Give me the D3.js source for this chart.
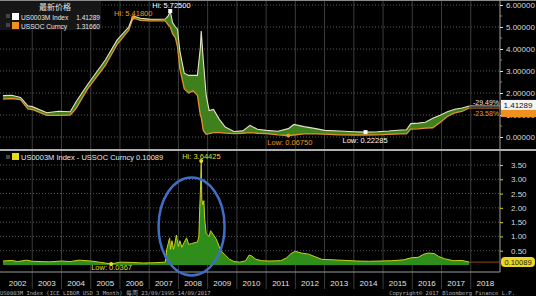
<!DOCTYPE html>
<html><head><meta charset="utf-8">
<script src="https://cdn.jsdelivr.net/npm/d3@7"></script>
<style>html,body{margin:0;padding:0;background:#000;overflow:hidden}svg{display:block}</style>
</head><body>
<svg id="c" width="536" height="296"></svg>
<script>
// ---- data (decimal years) ----
const dates = [2002.0,2002.3,2002.6,2002.85,2003.0,2003.5,2003.9,2004.3,2004.5,2004.9,2005.5,2005.9,2006.3,2006.45,2006.7,2007.0,2007.3,2007.55,2007.65,2007.72,2007.8,2007.9,2007.97,2008.05,2008.2,2008.35,2008.5,2008.65,2008.75,2008.78,2008.85,2008.95,2009.05,2009.2,2009.4,2009.6,2009.9,2010.2,2010.45,2010.7,2011.0,2011.4,2011.76,2011.95,2012.3,2012.7,2013.0,2013.5,2014.0,2014.4,2014.8,2015.2,2015.6,2015.8,2015.95,2016.2,2016.45,2016.7,2016.95,2017.2,2017.45,2017.7,2017.95];
const libor = [1.88,1.90,1.80,1.42,1.38,1.10,1.17,1.15,1.60,2.40,3.50,4.40,5.00,5.50,5.40,5.36,5.35,5.36,5.50,5.725,5.20,5.00,4.90,3.90,2.90,2.80,2.80,2.80,4.05,4.82,3.50,1.90,1.20,1.25,0.80,0.45,0.25,0.28,0.53,0.35,0.30,0.26,0.38,0.57,0.47,0.38,0.30,0.27,0.24,0.22285,0.24,0.27,0.32,0.33,0.61,0.63,0.67,0.85,0.99,1.15,1.26,1.32,1.41289];
const ois = [1.72,1.75,1.70,1.28,1.25,0.98,0.98,1.00,1.30,2.20,3.25,4.20,4.85,5.418,5.30,5.28,5.28,5.28,5.10,5.00,4.70,4.50,4.10,3.10,2.20,2.00,2.10,1.90,1.00,0.90,0.30,0.12,0.15,0.20,0.20,0.18,0.15,0.17,0.20,0.17,0.16,0.10,0.0675,0.09,0.14,0.14,0.13,0.10,0.09,0.09,0.10,0.12,0.14,0.14,0.36,0.37,0.40,0.42,0.66,0.93,1.10,1.16,1.3166];

const spreadDates = [2002.0,2002.3,2002.5,2002.8,2003.0,2003.3,2003.6,2004.0,2004.3,2004.6,2005.0,2005.3,2005.7,2006.0,2006.4,2006.8,2007.2,2007.55,2007.6,2007.65,2007.7,2007.73,2007.78,2007.83,2007.88,2007.93,2007.97,2008.0,2008.05,2008.12,2008.2,2008.28,2008.35,2008.45,2008.55,2008.65,2008.7,2008.73,2008.76,2008.78,2008.8,2008.84,2008.87,2008.9,2008.95,2009.0,2009.05,2009.1,2009.2,2009.3,2009.45,2009.6,2009.75,2009.9,2010.1,2010.3,2010.42,2010.5,2010.65,2010.85,2011.1,2011.5,2011.7,2011.85,2012.0,2012.2,2012.45,2012.7,2012.9,2013.3,2013.7,2014.1,2014.5,2014.9,2015.3,2015.7,2015.95,2016.2,2016.4,2016.55,2016.75,2016.9,2017.1,2017.4,2017.7,2017.95];
const spread = [0.14,0.16,0.12,0.17,0.13,0.12,0.11,0.14,0.12,0.17,0.14,0.10,0.0367,0.10,0.09,0.07,0.08,0.10,0.55,0.75,0.95,0.55,0.85,0.55,0.75,1.05,0.80,0.65,0.85,0.62,0.80,0.95,0.72,0.75,0.78,0.80,1.00,2.00,2.80,3.64425,2.30,2.10,2.25,1.60,1.10,1.05,1.00,1.20,1.05,0.90,0.50,0.35,0.20,0.12,0.10,0.15,0.35,0.32,0.20,0.15,0.14,0.15,0.25,0.40,0.48,0.42,0.38,0.28,0.20,0.18,0.16,0.14,0.13,0.14,0.15,0.18,0.25,0.27,0.38,0.42,0.40,0.30,0.22,0.15,0.16,0.10089];

const years = [2002,2003,2004,2005,2006,2007,2008,2009,2010,2011,2012,2013,2014,2015,2016,2017,2018];
const topTicks = [0,1,2,3,4,5,6];
const bottomTicks = [0.5,1.0,1.5,2.0,2.5,3.0,3.5];
const legendTitle = "最新价格";
const topLegend = [["US0003M Index","1.41289"],["USSOC Curncy","1.31660"]];
const bottomLegend = "US0003M Index - USSOC Curncy 0.10089";

// ---- drawing ----
const svg = d3.select("#c");
const W = 536, H = 296;
const x = d3.scaleLinear().domain([2002, 2019]).range([3, 500]);
const yT = d3.scaleLinear().domain([0, 6]).range([137, 5]);
const yB = d3.scaleLinear().domain([0, 3.5]).range([265, 165]);
const font = "'Liberation Sans', 'DejaVu Sans', sans-serif";
const topData = dates.map((d,i)=>({d, l:libor[i], o:ois[i]}));
const botData = spreadDates.map((d,i)=>({d, s:spread[i]}));

svg.append("rect").attr("width",W).attr("height",H).attr("fill","#000");

// vertical gridlines at year boundaries
svg.append("g").selectAll("line").data(years.slice(1)).join("line")
  .attr("x1",d=>x(d)).attr("x2",d=>x(d)).attr("y1",0).attr("y2",289)
  .attr("stroke","#3c3c3c").attr("stroke-width",1);

// horizontal dotted gridlines
svg.append("g").selectAll("line").data(topTicks).join("line")
  .attr("x1",0).attr("x2",500).attr("y1",d=>yT(d)).attr("y2",d=>yT(d))
  .attr("stroke","#5a5a5a").attr("stroke-dasharray","1,2");
svg.append("g").selectAll("line").data(bottomTicks).join("line")
  .attr("x1",0).attr("x2",500).attr("y1",d=>yB(d)).attr("y2",d=>yB(d))
  .attr("stroke","#5a5a5a").attr("stroke-dasharray","1,2");

// top panel: area between libor and ois
svg.append("path").datum(topData)
  .attr("d", d3.area().x(d=>x(d.d)).y0(d=>yT(d.o)).y1(d=>yT(d.l)))
  .attr("fill","#3f7f1c");
svg.append("path").datum(topData)
  .attr("d", d3.line().x(d=>x(d.d)).y(d=>yT(d.o)))
  .attr("fill","none").attr("stroke","#e0922c").attr("stroke-width",1.3);
svg.append("path").datum(topData)
  .attr("d", d3.line().x(d=>x(d.d)).y(d=>yT(d.l)))
  .attr("fill","none").attr("stroke","#e6e4c4").attr("stroke-width",1.1);

// bottom panel: spread area
svg.append("path").datum(botData)
  .attr("d", d3.area().x(d=>x(d.d)).y0(yB(0)).y1(d=>yB(d.s)))
  .attr("fill","#2f8d1c");
svg.append("path").datum(botData)
  .attr("d", d3.line().x(d=>x(d.d)).y(d=>yB(d.s)))
  .attr("fill","none").attr("stroke","#c9d21a").attr("stroke-width",1);

// frame lines
svg.append("line").attr("x1",0).attr("x2",W).attr("y1",0.5).attr("y2",0.5).attr("stroke","#8a8a8a");
svg.append("line").attr("x1",0).attr("x2",W).attr("y1",150).attr("y2",150).attr("stroke","#b0b0b0").attr("stroke-width",2);
svg.append("line").attr("x1",0).attr("x2",500).attr("y1",272).attr("y2",272).attr("stroke","#9a9a9a");
svg.append("line").attr("x1",500).attr("x2",500).attr("y1",0).attr("y2",272).attr("stroke","#a0a0a0");

// right axis top
const gT = svg.append("g").attr("transform","translate(500,0)");
gT.call(d3.axisRight(yT).tickValues(topTicks).tickFormat(d3.format(".5f")).tickSize(3).tickPadding(3));
gT.select(".domain").remove();
gT.selectAll("line").attr("stroke","#ddd");
gT.selectAll("text").attr("fill","#d8d8d8").attr("font-size",8).attr("font-family",font);
svg.append("g").selectAll("line").data([0.5,1.5,2.5,3.5,4.5,5.5]).join("line")
  .attr("x1",500).attr("x2",502).attr("y1",d=>yT(d)).attr("y2",d=>yT(d)).attr("stroke","#888");

// right axis bottom
const gB = svg.append("g").attr("transform","translate(500,0)");
gB.call(d3.axisRight(yB).tickValues(bottomTicks).tickFormat(d3.format(".2f")).tickSize(3).tickPadding(8));
gB.select(".domain").remove();
gB.selectAll("line").attr("stroke","#d8d000");
gB.selectAll("text").attr("fill","#d8d8d8").attr("font-size",8).attr("font-family",font);

// x axis year labels
svg.append("g").selectAll("text").data(years).join("text")
  .attr("x",d=>x(d+0.5)).attr("y",286).attr("text-anchor","middle")
  .attr("fill","#e0e0e0").attr("font-size",8).attr("font-family",font).text(d=>d);

// legend top-left
svg.append("rect").attr("x",0).attr("y",1).attr("width",101).attr("height",29).attr("fill","#161616");
svg.append("text").attr("x",55).attr("y",10).attr("text-anchor","middle").attr("fill","#e8e8e8")
  .attr("font-size",8).attr("font-family","'Noto Sans CJK SC', sans-serif").text(legendTitle);
const legColors = ["#ffffff","#f0901e"];
topLegend.forEach((r,i)=>{
  const yy = 13 + i*9;
  svg.append("rect").attr("x",6).attr("y",yy+1).attr("width",4).attr("height",4).attr("fill","#444");
  svg.append("rect").attr("x",12).attr("y",yy).attr("width",7).attr("height",7).attr("fill",legColors[i]);
  svg.append("text").attr("x",21).attr("y",yy+6.5).attr("fill","#e8e8e8").attr("font-size",6.6)
    .attr("font-family",font).text(r[0]);
  svg.append("text").attr("x",100).attr("y",yy+6.5).attr("text-anchor","end").attr("fill","#e8e8e8").attr("font-size",6.6)
    .attr("font-family",font).text(r[1]);
});

// bottom legend
svg.append("rect").attr("x",6).attr("y",155).attr("width",4).attr("height",4).attr("fill","#444");
svg.append("rect").attr("x",12).attr("y",153).attr("width",7).attr("height",7).attr("fill","#e8d81c");
svg.append("text").attr("x",21).attr("y",159.5).attr("fill","#e8e8e8").attr("font-size",7.5)
  .attr("font-family",font).text(bottomLegend);

// Hi / Low markers
function marker(xv, yv, color, label, lx, ly, anchor, square){
  if(square) svg.append("rect").attr("x",xv-2).attr("y",yv-2).attr("width",4).attr("height",4).attr("fill",color);
  else svg.append("circle").attr("cx",xv).attr("cy",yv).attr("r",2).attr("fill",color);
  svg.append("text").attr("x",lx).attr("y",ly).attr("text-anchor",anchor||"start").attr("fill",color)
    .attr("font-size",7.5).attr("font-family",font).text(label);
}
const iOisHi = ois.indexOf(d3.max(ois)), iLibHi = libor.indexOf(d3.max(libor));
const iOisLo = ois.indexOf(d3.min(ois)), iLibLo = dates.indexOf(2014.4);
marker(x(dates[iOisHi]), yT(ois[iOisHi]), "#f0961e", "Hi: 5.41800", x(dates[iOisHi])-19, 16);
marker(x(dates[iLibHi]), yT(libor[iLibHi]), "#ffffff", "Hi: 5.72500", x(dates[iLibHi])-18, 8, "start", true);
marker(x(dates[iOisLo]), yT(ois[iOisLo]), "#f0961e", "Low: 0.06750", x(dates[iOisLo])-21, 145);
marker(x(dates[iLibLo]), yT(libor[iLibLo]), "#ffffff", "Low: 0.22285", x(dates[iLibLo])-23, 143, "start", true);
const iSHi = spread.indexOf(d3.max(spread)), iSLo = spread.indexOf(d3.min(spread));
marker(x(spreadDates[iSHi]), yB(spread[iSHi]), "#e6de2a", "Hi: 3.64425", x(spreadDates[iSHi])-19, 159);
marker(x(spreadDates[iSLo]), yB(spread[iSLo]), "#e6de2a", "Low: 0.0367", x(spreadDates[iSLo])-20, 270);

// last value lines & tags (top)
const xe = x(dates[dates.length-1]);
svg.append("line").attr("x1",xe).attr("x2",500).attr("y1",yT(libor[libor.length-1])).attr("y2",yT(libor[libor.length-1])).attr("stroke","#bbb");
svg.append("line").attr("x1",xe).attr("x2",500).attr("y1",yT(ois[ois.length-1])).attr("y2",yT(ois[ois.length-1])).attr("stroke","#d07a20");
svg.append("text").attr("x",499).attr("y",105).attr("text-anchor","end").attr("fill","#e8e8e8").attr("font-size",7).attr("font-family",font).text("-29.49%");
svg.append("text").attr("x",499).attr("y",116).attr("text-anchor","end").attr("fill","#f0901e").attr("font-size",7).attr("font-family",font).text("-23.58%");
svg.append("rect").attr("x",501).attr("y",108).attr("width",35).attr("height",9).attr("fill","#f0901e");
svg.append("rect").attr("x",501).attr("y",yT(libor[libor.length-1])-6).attr("width",35).attr("height",10).attr("fill","#f4f4f4");
svg.append("text").attr("x",518).attr("y",yT(libor[libor.length-1])+2).attr("text-anchor","middle").attr("fill","#111").attr("font-size",8).attr("font-family",font).text(topLegend[0][1]);

// last value (bottom)
const ySe = yB(spread[spread.length-1]);
svg.append("line").attr("x1",x(spreadDates[spreadDates.length-1])).attr("x2",500).attr("y1",ySe).attr("y2",ySe).attr("stroke","#8a4a1a");
svg.append("rect").attr("x",501).attr("y",ySe-5).attr("width",34).attr("height",10).attr("rx",4).attr("fill","#ecd81e");
svg.append("text").attr("x",518).attr("y",ySe+3).attr("text-anchor","middle").attr("fill","#222").attr("font-size",7.5).attr("font-family",font).text("0.10089");

// blue ellipse highlight
svg.append("ellipse").attr("cx",x(2008.45)).attr("cy",yB(1.35)).attr("rx",33).attr("ry",49)
  .attr("fill","none").attr("stroke","#3f6fc4").attr("stroke-width",2.5);

// footer
svg.append("text").attr("x",0).attr("y",295).attr("fill","#b0b0b0").attr("font-size",5.5)
  .attr("font-family","'DejaVu Sans Mono', monospace").text("US0003M Index (ICE LIBOR USD 3 Month)  每周 23/09/1995-14/09/2017");
svg.append("text").attr("x",515).attr("y",295).attr("text-anchor","end").attr("fill","#b0b0b0").attr("font-size",5.5)
  .attr("font-family","'DejaVu Sans Mono', monospace").text("Copyright© 2017 Bloomberg Finance L.P.");
</script>
</body></html>
